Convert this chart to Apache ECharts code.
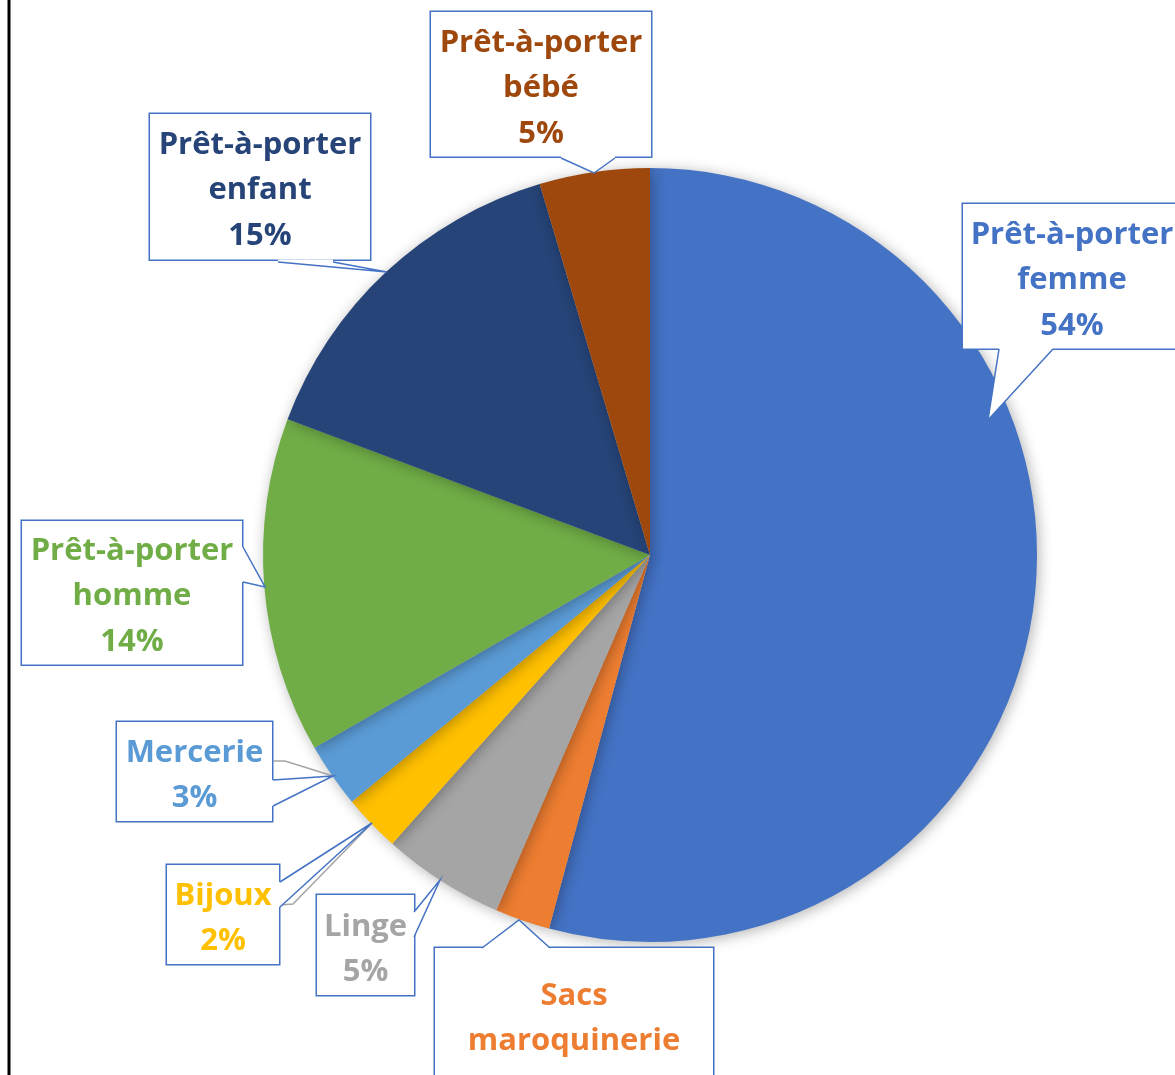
<!DOCTYPE html>
<html>
<head>
<meta charset="utf-8">
<script src="https://cdn.jsdelivr.net/npm/echarts@6/dist/echarts.min.js"></script>
<style>
html,body{margin:0;padding:0;background:#fff;}
#chart{width:1175px;height:1075px;}
</style>
</head>
<body>
<div id="chart"></div>
<script>
// Data
const categories = ['Prêt-à-porter femme', 'Sacs maroquinerie', 'Linge', 'Bijoux', 'Mercerie', 'Prêt-à-porter homme', 'Prêt-à-porter enfant', 'Prêt-à-porter bébé'];
const values = [54.2, 2.3, 5.1, 2.4, 2.7, 14.0, 14.7, 4.6];
const colors = ['#4472C4', '#ED7D31', '#A5A5A5', '#FFC000', '#5B9BD5', '#70AD47', '#264478', '#9E480E'];

// Label callout boxes: centre x, top y, outer width, padding [top, bottom], line height of % line
const labelBoxes = [
  { cx: 1072, top: 204, w: 220, pad: [8, 0], pctLine: 45.5 },
  { cx: 574, top: 948, w: 280, pad: [25, 40], pctLine: 80 },
  { cx: 365.5, top: 895, w: 99, pad: [9, 0], pctLine: 45.5 },
  { cx: 223, top: 865, w: 114, pad: [8, 0], pctLine: 45.5 },
  { cx: 194.5, top: 722, w: 157, pad: [8, 0], pctLine: 45.5 },
  { cx: 132, top: 521, w: 222, pad: [7, 0], pctLine: 45.5 },
  { cx: 260, top: 114, w: 222, pad: [8, 1], pctLine: 45.5 },
  { cx: 541, top: 12, w: 222, pad: [8, 0], pctLine: 45.5 }
];
// Callout tails: base point, tip on the pie edge, base point
const labelTails = [
  [[999, 349], [988, 420], [1053, 349]],
  [[482, 948], [519, 920], [550, 948]],
  [[414, 912], [440, 880], [414, 937]],
  [[280, 882], [372, 823], [280, 907]],
  [[273, 780], [333, 776], [273, 806]],
  [[243, 547], [265, 587], [243, 582]],
  [[278, 262], [387, 272], [333, 262]],
  [[561, 158], [594, 173], [615, 158]]
];
// Grey leader lines (Mercerie, Bijoux)
const leaderLines = [
  [[273, 761], [285, 761], [333, 776]],
  [[280, 905], [293, 904], [372, 823]]
];

const chart = echarts.init(document.getElementById('chart'));
const LINE_H = 45.5;
const FONT = 'Open Sans';
const BOX_BORDER = '#4472C4';

const data = categories.map((name, i) => ({
  name: name,
  value: values[i],
  itemStyle: { color: colors[i] },
  label: {
    color: colors[i],
    width: labelBoxes[i].w - 2,
    padding: [labelBoxes[i].pad[0], 0, labelBoxes[i].pad[1], 0],
    rich: {
      p: {
        color: colors[i],
        fontFamily: FONT,
        fontWeight: 'bold',
        fontSize: 31,
        lineHeight: labelBoxes[i].pctLine,
        align: 'center'
      }
    }
  }
}));

// callout tail graphics
const graphics = [{
  type: 'line',
  shape: { x1: 9, y1: 0, x2: 9, y2: 1075 },
  style: { stroke: '#000', lineWidth: 3 },
  z: 100
}];
leaderLines.forEach(pts => {
  graphics.push({
    type: 'polyline', z: 99, silent: true,
    shape: { points: pts },
    style: { stroke: '#A5A5A5', lineWidth: 1.5, fill: null }
  });
});
labelTails.forEach(t => {
  const [b1, tip, b2] = t;
  let d;
  if (Math.abs(b1[1] - b2[1]) < 1) d = [0, Math.sign(b1[1] - tip[1]) * 2.5];
  else d = [Math.sign(b1[0] - tip[0]) * 2.5, 0];
  const poly = [[b1[0] + d[0], b1[1] + d[1]], b1, tip, b2, [b2[0] + d[0], b2[1] + d[1]]];
  graphics.push({
    type: 'polygon', z: 100, silent: true,
    shape: { points: poly },
    style: { fill: '#ffffff', stroke: null }
  });
  graphics.push({
    type: 'polyline', z: 101, silent: true,
    shape: { points: t },
    style: { stroke: BOX_BORDER, lineWidth: 1.5, fill: null, lineJoin: 'miter' }
  });
});

chart.setOption({
  animation: false,
  backgroundColor: '#ffffff',
  graphic: graphics,
  series: [{
    type: 'pie',
    center: [650, 555],
    radius: [0, 387],
    startAngle: 90,
    clockwise: true,
    avoidLabelOverlap: false,
    data: data,
    itemStyle: {
      borderWidth: 0,
      shadowBlur: 14,
      shadowColor: 'rgba(0,0,0,0.30)',
      shadowOffsetX: 2,
      shadowOffsetY: 2
    },
    label: {
      show: true,
      position: 'outside',
      fontFamily: FONT,
      fontWeight: 'bold',
      fontSize: 31,
      lineHeight: LINE_H,
      align: 'center',
      backgroundColor: '#ffffff',
      borderColor: BOX_BORDER,
      borderWidth: 1.5,
      formatter: function (p) {
        return p.name.split(' ').join('\n') + '\n{p|' + Math.round(p.percent) + '%}';
      }
    },
    labelLine: { show: false },
    labelLayout: function (params) {
      const b = labelBoxes[params.dataIndex];
      return { x: b.cx, y: b.top, align: 'center', verticalAlign: 'top' };
    },
    emphasis: { disabled: true }
  }]
});
</script>
</body>
</html>
